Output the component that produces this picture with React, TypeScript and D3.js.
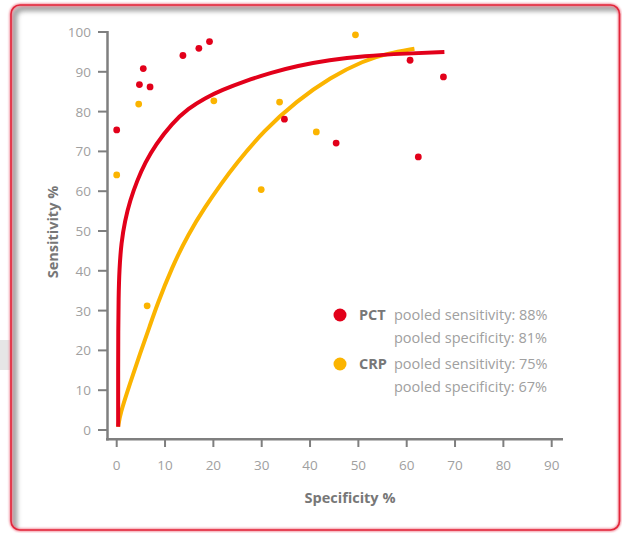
import React from "react";
import * as d3 from "d3";

const xTicks = [0, 10, 20, 30, 40, 50, 60, 70, 80, 90];
const yTicks = [0, 10, 20, 30, 40, 50, 60, 70, 80, 90, 100];

const pctPoints: [number, number][] = [
  [0, 75.4], [4.7, 86.8], [5.5, 90.8], [6.9, 86.2], [13.7, 94.1], [17.0, 95.9], [19.2, 97.6],
  [34.7, 78.1], [45.4, 72.1], [60.7, 92.9], [62.4, 68.6], [67.6, 88.7],
];
const crpPoints: [number, number][] = [
  [0, 64.1], [4.55, 81.9], [6.3, 31.2], [20.1, 82.7], [29.9, 60.4], [33.7, 82.4], [41.3, 74.9], [49.4, 99.3],
];
const pctCurve: [number, number][] = [
  [0.3, 0.8], [0.3, 5], [0.3, 15], [0.32, 25], [0.38, 33], [0.55, 40.5], [0.95, 47], [1.7, 52.6], [2.75, 57.6],
  [4.2, 62.6], [5.9, 67.2], [8, 71.6], [11.4, 77.0], [14.8, 80.8], [18.3, 83.4], [21.7, 85.4], [26.6, 87.7],
  [32, 89.8], [37.3, 91.5], [44, 93.0], [51.1, 94.0], [60, 94.6], [67.8, 95.0], [67.8, 95.0],
];
const crpCurve: [number, number][] = [
  [0.3, 0.8], [0.3, 0.8], [0.7, 4.0], [2.75, 11.7], [4.8, 19.1], [6.9, 26.3], [8.3, 31.3], [11.4, 40.8], [14.8, 49.2],
  [18.3, 56.1], [21.7, 62], [24.5, 66.6], [30.4, 75.2], [37.3, 82.7], [44.2, 88.6], [51.1, 92.8], [56, 94.6],
  [61.6, 95.8], [61.6, 95.8],
];

const legendItems = [
  { name: "PCT", sens: "pooled sensitivity: 88%", spec: "pooled specificity: 81%", color: "#e2001a" },
  { name: "CRP", sens: "pooled sensitivity: 75%", spec: "pooled specificity: 67%", color: "#fbb400" },
];

const RED = "#e2001a";
const YELLOW = "#fbb400";
const AXIS = "#7f7f7f";
const TICKTXT = "#a0a0a0";
const FONT = "'Open Sans', 'DejaVu Sans', sans-serif";

export default function App() {
  const x = d3.scaleLinear().domain([0, 90]).range([116.7, 551.7]);
  const y = d3.scaleLinear().domain([0, 100]).range([430, 32]);
  const line = d3
    .line<[number, number]>()
    .x((d) => x(d[0]))
    .y((d) => y(d[1]))
    .curve(d3.curveBasis);

  return (
    <svg
      width={622}
      height={533}
      style={{ position: "absolute", left: 0, top: 0 }}
      fontFamily={FONT}
    >
      <defs>
        <clipPath id="frameClip">
          <rect x={11} y={5} width={608.5} height={525} rx={9} />
        </clipPath>
        <filter id="blur" x="-10%" y="-10%" width="120%" height="120%">
          <feGaussianBlur stdDeviation={2.5} />
        </filter>
        <filter id="glow" x="-5%" y="-5%" width="110%" height="110%">
          <feGaussianBlur stdDeviation={1} />
        </filter>
      </defs>
      <rect x={0} y={340} width={12} height={30} fill="#e6e6e6" />
      <rect x={11} y={5} width={608.5} height={525} rx={9} fill="#fff" />
      <g clipPath="url(#frameClip)">
        <rect
          x={14}
          y={8}
          width={620}
          height={540}
          rx={9}
          fill="none"
          stroke="#9a9a9a"
          strokeWidth={6}
          filter="url(#blur)"
        />
      </g>
      <rect
        x={11}
        y={5}
        width={608.5}
        height={525}
        rx={9}
        fill="none"
        stroke="#f08090"
        strokeWidth={3}
        filter="url(#glow)"
      />
      <rect x={11} y={5} width={608.5} height={525} rx={9} fill="none" stroke="#e2263a" strokeWidth={1.6} />

      {/* y axis */}
      <line x1={107.5} x2={107.5} y1={y(100) - 1} y2={440.5} stroke={AXIS} strokeWidth={2.5} />
      {yTicks.map((t) => (
        <g key={"y" + t}>
          <line x1={98} x2={107} y1={y(t)} y2={y(t)} stroke={AXIS} strokeWidth={2} />
          <text x={91} y={y(t) + 5} textAnchor="end" fontSize={13.5} fill={TICKTXT}>
            {t}
          </text>
        </g>
      ))}
      {/* x axis */}
      <line x1={106} x2={563} y1={439.3} y2={439.3} stroke={AXIS} strokeWidth={2.5} />
      {xTicks.map((t) => (
        <g key={"x" + t}>
          <line x1={x(t)} x2={x(t)} y1={439} y2={447} stroke={AXIS} strokeWidth={2} />
          <text x={x(t)} y={470} textAnchor="middle" fontSize={13.5} fill={TICKTXT}>
            {t}
          </text>
        </g>
      ))}
      <text x={350} y={503} textAnchor="middle" fontSize={14.5} fontWeight="bold" fill="#777">
        Specificity %
      </text>
      <text
        transform="translate(58,232) rotate(-90)"
        textAnchor="middle"
        fontSize={14.5}
        fontWeight="bold"
        fill="#777"
      >
        Sensitivity %
      </text>

      {/* curves */}
      <path d={line(crpCurve) || ""} fill="none" stroke={YELLOW} strokeWidth={4} />
      <path d={line(pctCurve) || ""} fill="none" stroke={RED} strokeWidth={4} />

      {/* points */}
      {crpPoints.map((p, i) => (
        <circle key={"c" + i} cx={x(p[0])} cy={y(p[1])} r={3.4} fill={YELLOW} />
      ))}
      {pctPoints.map((p, i) => (
        <circle key={"p" + i} cx={x(p[0])} cy={y(p[1])} r={3.4} fill={RED} />
      ))}

      {/* legend */}
      {legendItems.map((it, i) => {
        const by = 320 + i * 49;
        return (
          <g key={it.name}>
            <circle cx={340} cy={by - 5} r={6.5} fill={it.color} />
            <text x={359} y={by} fontSize={14.5} fontWeight="bold" fill="#777">
              {it.name}
            </text>
            <text x={394} y={by} fontSize={14.5} fill={TICKTXT}>
              {it.sens}
            </text>
            <text x={394} y={by + 22.5} fontSize={14.5} fill={TICKTXT}>
              {it.spec}
            </text>
          </g>
        );
      })}
    </svg>
  );
}
